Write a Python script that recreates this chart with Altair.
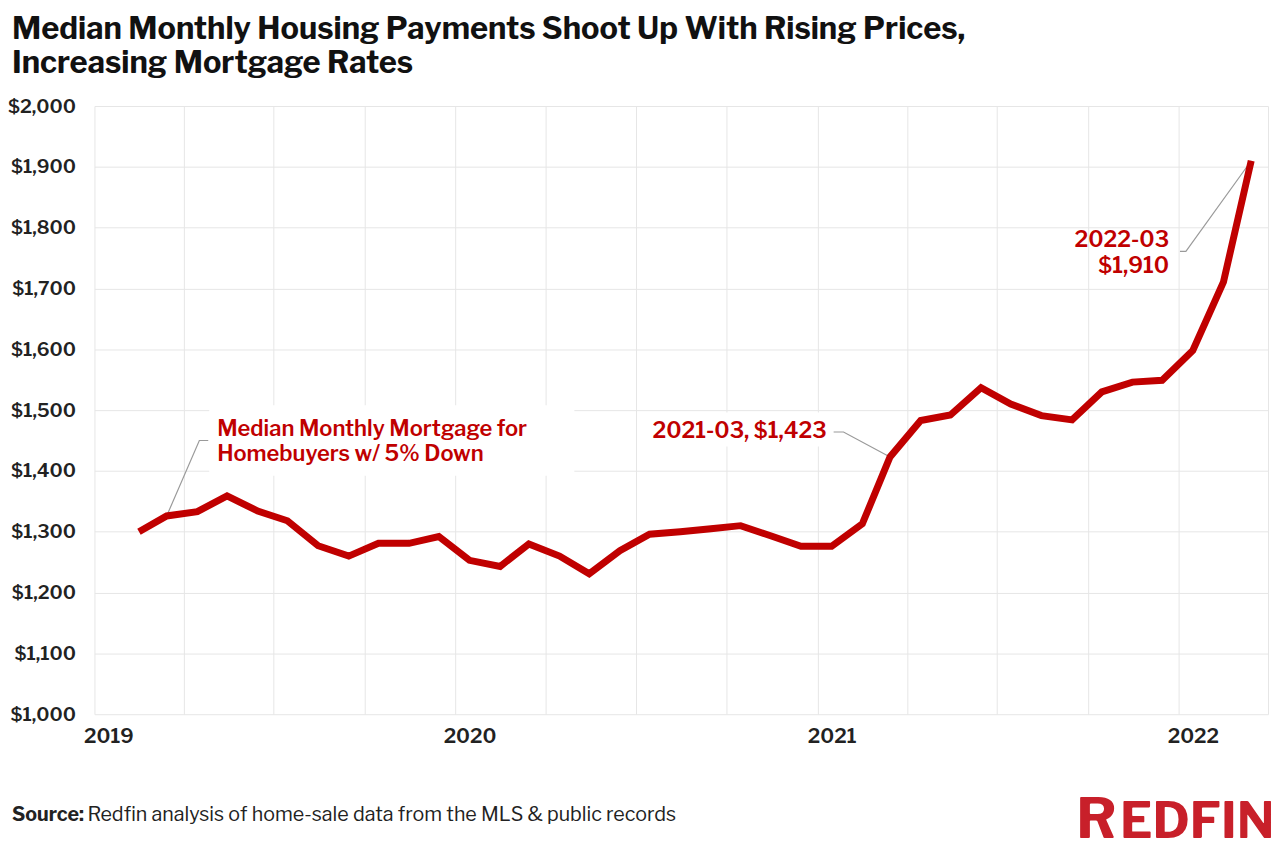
import altair as alt
import pandas as pd

# ---------------- data ----------------
MONTHS = [
    "2019-02-15", "2019-03-15", "2019-04-15", "2019-05-15", "2019-06-15", "2019-07-15",
    "2019-08-15", "2019-09-15", "2019-10-15", "2019-11-15", "2019-12-15",
    "2020-01-15", "2020-02-15", "2020-03-15", "2020-04-15", "2020-05-15", "2020-06-15",
    "2020-07-15", "2020-08-15", "2020-09-15", "2020-10-15", "2020-11-15", "2020-12-15",
    "2021-01-15", "2021-02-15", "2021-03-15", "2021-04-15", "2021-05-15", "2021-06-15",
    "2021-07-15", "2021-08-15", "2021-09-15", "2021-10-15", "2021-11-15", "2021-12-15",
    "2022-01-15", "2022-02-15", "2022-03-15",
]
PAYMENT = [
    1300, 1326, 1333, 1359, 1334, 1318, 1277, 1260, 1281, 1281, 1292,
    1253, 1243, 1280, 1260, 1231, 1269, 1296, 1300, 1305, 1310, 1293, 1276,
    1276, 1313, 1423, 1483, 1492, 1537, 1510, 1491, 1484, 1530, 1546, 1549,
    1598, 1711, 1910,
]

Y_TICKS = [1000, 1100, 1200, 1300, 1400, 1500, 1600, 1700, 1800, 1900, 2000]
X_GRID_YEARS = [2019, 2019, 2019, 2019, 2020, 2020, 2020, 2020, 2021, 2021, 2021, 2021, 2022, 2022]
X_GRID_MONTHS = [1, 4, 7, 10, 1, 4, 7, 10, 1, 4, 7, 10, 1, 4]
X_DOMAIN = ["2019-01-01", "2022-04-01"]

# annotation texts
ANN_LEFT_TEXT = ["Median Monthly Mortgage for", "Homebuyers w/ 5% Down"]
ANN_LEFT_DATE = ["2019-05-05", "2019-05-05"]
ANN_LEFT_VALUE = [1458, 1416]

ANN_RIGHT_TEXT = ["2021-03, $1,423", "2022-03", "$1,910"]
ANN_RIGHT_DATE = ["2021-01-10", "2021-12-22", "2021-12-22"]
ANN_RIGHT_VALUE = [1454, 1768, 1726]

# white boxes behind annotations
BOX_X1 = ["2019-04-27", "2020-07-15"]
BOX_X2 = ["2020-04-30", "2021-01-16"]
BOX_Y1 = [1392, 1440]
BOX_Y2 = [1508, 1496]

# connector lines
CONN_ID = [1, 1, 1, 2, 2, 2, 3, 3, 3]
CONN_ORDER = [0, 1, 2, 0, 1, 2, 0, 1, 2]
CONN_DATE = ["2019-03-15", "2019-04-17", "2019-04-26",
             "2021-01-17", "2021-01-27", "2021-03-15",
             "2022-01-02", "2022-01-08", "2022-03-15"]
CONN_VALUE = [1326, 1450, 1450, 1464, 1464, 1423, 1761, 1761, 1910]

TITLE_LINES = ["Median Monthly Housing Payments Shoot Up With Rising Prices,",
               "Increasing Mortgage Rates"]
SOURCE_BOLD = "Source:"
SOURCE_TEXT = "Redfin analysis of home-sale data from the MLS & public records"

FONT = "Libre Franklin, Inter, sans-serif"
RED = "#C00000"
LOGO_RED = "#C8202A"

# ---------------- chart ----------------
df = pd.DataFrame({"date": MONTHS, "payment": PAYMENT})

xscale = alt.Scale(type="utc", domain=X_DOMAIN, nice=False)
yscale = alt.Scale(domain=[1000, 2000], nice=False)

x_vals = [alt.DateTime(year=y, month=m, date=1, utc=True) for y, m in zip(X_GRID_YEARS, X_GRID_MONTHS)]

x_axis = alt.Axis(
    values=x_vals, grid=True, gridColor="#e6e6e6", gridWidth=1,
    domain=False, ticks=False, title=None,
    labelExpr="utcmonth(datum.value) == 0 ? utcFormat(datum.value, '%Y') : ''",
    labelFont=FONT, labelFontSize=20, labelFontWeight=600, labelColor="#222222",
    labelPadding=12, labelOffset=14, labelAlign="center", labelOverlap=False,
)
y_axis = alt.Axis(
    values=Y_TICKS, grid=True, gridColor="#e6e6e6", gridWidth=1,
    domain=False, ticks=False, title=None, format="$,.0f",
    labelFont=FONT, labelFontSize=19, labelFontWeight=600, labelColor="#222222",
    labelPadding=19,
)

base = alt.Chart(df).encode(
    x=alt.X("date:T", scale=xscale, axis=x_axis),
    y=alt.Y("payment:Q", scale=yscale, axis=y_axis),
)

boxes = alt.Chart(pd.DataFrame({"x1": BOX_X1, "x2": BOX_X2, "y1": BOX_Y1, "y2": BOX_Y2})).mark_rect(
    color="white"
).encode(
    x=alt.X("x1:T", scale=xscale),
    x2="x2:T",
    y=alt.Y("y1:Q", scale=yscale),
    y2="y2:Q",
)

line = base.mark_line(color=RED, strokeWidth=7, strokeJoin="miter")

conn = alt.Chart(pd.DataFrame({"id": CONN_ID, "o": CONN_ORDER, "date": CONN_DATE, "v": CONN_VALUE})).mark_line(
    color="#9a9a9a", strokeWidth=1.2
).encode(
    x=alt.X("date:T", scale=xscale),
    y=alt.Y("v:Q", scale=yscale),
    detail="id:N",
    order="o:Q",
)

ann_left = alt.Chart(pd.DataFrame({"t": ANN_LEFT_TEXT, "date": ANN_LEFT_DATE, "v": ANN_LEFT_VALUE})).mark_text(
    align="left", baseline="alphabetic", font=FONT, fontSize=22, fontWeight=600, color=RED
).encode(x=alt.X("date:T", scale=xscale), y=alt.Y("v:Q", scale=yscale), text="t:N")

ann_right = alt.Chart(pd.DataFrame({"t": ANN_RIGHT_TEXT, "date": ANN_RIGHT_DATE, "v": ANN_RIGHT_VALUE})).mark_text(
    align="right", baseline="alphabetic", font=FONT, fontSize=22, fontWeight=600, color=RED
).encode(x=alt.X("date:T", scale=xscale), y=alt.Y("v:Q", scale=yscale), text="t:N")

# title, source and logo (positions relative to plot origin)
title1 = alt.Chart(pd.DataFrame({"t": [TITLE_LINES[0]]})).mark_text(
    align="left", baseline="alphabetic", font=FONT, fontSize=31, fontWeight=700, color="#111111"
).encode(x=alt.value(-83), y=alt.value(-67), text="t:N")
title2 = alt.Chart(pd.DataFrame({"t": [TITLE_LINES[1]]})).mark_text(
    align="left", baseline="alphabetic", font=FONT, fontSize=31, fontWeight=700, color="#111111"
).encode(x=alt.value(-83), y=alt.value(-33), text="t:N")

src_b = alt.Chart(pd.DataFrame({"t": [SOURCE_BOLD]})).mark_text(
    align="left", baseline="alphabetic", font=FONT, fontSize=19.8, fontWeight=700, color="#222222"
).encode(x=alt.value(-83), y=alt.value(719), text="t:N")
src_r = alt.Chart(pd.DataFrame({"t": [SOURCE_TEXT]})).mark_text(
    align="left", baseline="alphabetic", font=FONT, fontSize=19.8, fontWeight=400, color="#222222"
).encode(x=alt.value(-7), y=alt.value(719), text="t:N")

logo_r = alt.Chart(pd.DataFrame({"t": ["R"]})).mark_text(
    align="left", baseline="alphabetic", font=FONT, fontSize=56, fontWeight=700, color=LOGO_RED
).encode(x=alt.value(988), y=alt.value(737), text="t:N")
logo_rest = alt.Chart(pd.DataFrame({"t": ["EDFIN"]})).mark_text(
    align="left", baseline="alphabetic", font=FONT, fontSize=50, fontWeight=700, color=LOGO_RED
).encode(x=alt.value(1032), y=alt.value(737), text="t:N")

chart = alt.layer(
    boxes, conn, line, ann_left, ann_right,
    title1, title2, src_b, src_r, logo_r, logo_rest,
).properties(
    width=1181, height=612,
    padding={"left": 87, "top": 96, "right": 4, "bottom": 133},
    autosize=alt.AutoSizeParams(type="none"),
    background="white",
).configure_view(stroke=None)

chart.save("out.html", embed_options={"renderer": "svg", "actions": False})
